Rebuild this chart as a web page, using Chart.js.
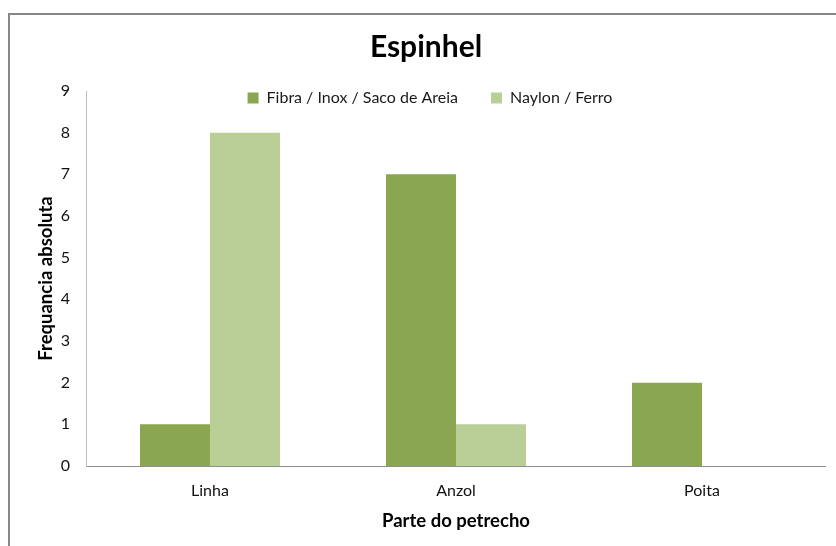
<!DOCTYPE html>
<html>
<head>
<meta charset="utf-8">
<script src="https://cdn.jsdelivr.net/npm/chart.js@4"></script>
<style>
  html, body { margin: 0; padding: 0; background: #ffffff; }
  #wrap { width: 836px; height: 546px; }
</style>
</head>
<body>
<div id="wrap"><canvas id="c" width="836" height="546"></canvas></div>
<script>
const categories = ['Linha', 'Anzol', 'Poita'];
const fibraInox = [1, 7, 2];
const naylonFerro = [8, 1, 0];
const seriesNames = ['Fibra / Inox / Saco de Areia', 'Naylon / Ferro'];
const yTicks = [0, 1, 2, 3, 4, 5, 6, 7, 8, 9];

const FONT = 'Lato, "Open Sans", sans-serif';
const LEGEND_PAD = 33;
const LEGEND_FONT = 16;

const framePlugin = {
  id: 'frame',
  beforeDraw(chart) {
    const ctx = chart.ctx;
    ctx.save();
    ctx.fillStyle = '#ffffff';
    ctx.fillRect(0, 0, chart.width, chart.height);
    ctx.strokeStyle = '#878787';
    ctx.lineWidth = 2;
    ctx.strokeRect(9, 14, chart.width + 50, chart.height + 50);
    ctx.restore();
  }
};

// place the legend inside the top of the plot area, as in the original
const legendShift = {
  id: 'legendShift',
  afterLayout(chart) {
    const lg = chart.legend;
    if (lg) {
      const h = lg.bottom - lg.top;
      const newTop = chart.chartArea.top + 7 - LEGEND_PAD - LEGEND_FONT / 2;
      lg.top = newTop;
      lg.bottom = newTop + h;
      lg.left += 8;
      lg.right += 8;
    }
    const tb = chart.titleBlock;
    if (tb) {
      tb.left += 8;
    }
  }
};

new Chart(document.getElementById('c'), {
  type: 'bar',
  data: {
    labels: categories,
    datasets: [
      { label: seriesNames[0], data: fibraInox, backgroundColor: '#8BA651', borderWidth: 0 },
      { label: seriesNames[1], data: naylonFerro, backgroundColor: '#BACE97', borderWidth: 0 }
    ]
  },
  options: {
    responsive: false,
    animation: false,
    devicePixelRatio: 1,
    layout: { padding: { top: 20, left: 19, right: 11, bottom: 0 } },
    datasets: { bar: { categoryPercentage: 0.569, barPercentage: 1.0 } },
    plugins: {
      title: {
        display: true,
        text: 'Espinhel',
        color: '#000000',
        font: { family: FONT, size: 30, weight: 'bold', lineHeight: 1.2 },
        padding: { top: 9, bottom: -33 }
      },
      legend: {
        display: true,
        position: 'top',
        align: 'center',
        labels: {
          boxWidth: 11,
          boxHeight: 11,
          color: '#1a1a1a',
          font: { family: FONT, size: LEGEND_FONT },
          padding: LEGEND_PAD
        }
      },
      tooltip: { enabled: false }
    },
    scales: {
      x: {
        grid: { display: false, drawTicks: false },
        border: { display: true, color: '#8e8e8e', width: 1 },
        ticks: { color: '#111111', font: { family: FONT, size: 16 }, padding: 15.4 },
        title: {
          display: true,
          text: 'Parte do petrecho',
          color: '#000000',
          font: { family: FONT, size: 18.5, weight: 'bold', lineHeight: 1.2 },
          padding: { top: -6.1, bottom: 13.9 }
        }
      },
      y: {
        min: 0,
        max: 9,
        afterBuildTicks(scale) { scale.ticks = yTicks.map(v => ({ value: v })); },
        grid: { display: false, drawTicks: false },
        border: { display: true, color: '#bfbfbf', width: 1 },
        ticks: { color: '#111111', font: { family: FONT, size: 16 }, padding: 17 },
        title: {
          display: true,
          text: 'Frequancia absoluta',
          color: '#000000',
          font: { family: FONT, size: 18.5, weight: 'bold', lineHeight: 1.2 },
          padding: { top: 15.9, bottom: -13.4 }
        }
      }
    }
  },
  plugins: [framePlugin, legendShift]
});
</script>
</body>
</html>
